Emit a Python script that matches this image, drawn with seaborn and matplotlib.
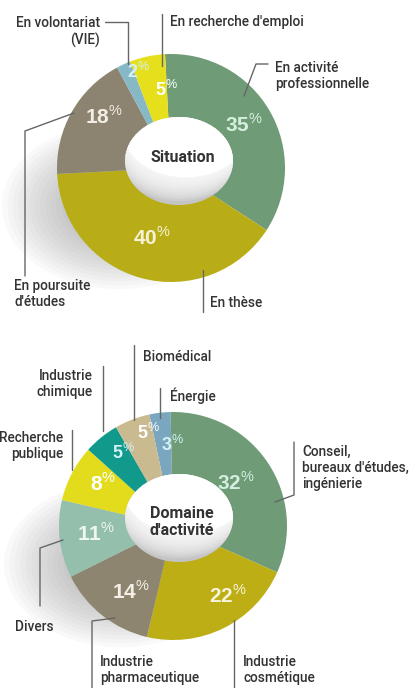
import matplotlib
matplotlib.use("Agg")
import matplotlib.pyplot as plt
from matplotlib.patches import Ellipse
import numpy as np
import seaborn as sns

# data
sit_labels = ["En activité\nprofessionnelle", "En thèse", "En poursuite\nd'études",
              "En volontariat\n(VIE)", "En recherche d'emploi"]
sit_values = [35, 40, 18, 2, 5]
sit_colors = ["#6f9b76", "#b9ad17", "#8c8370", "#86b8c5", "#e6df1c"]
sit_pct_colors = ["#d6f0e0", "#f6f2d8", "#f2eee4", "#d4f2f6", "#ffffff"]

dom_labels = ["Énergie", "Conseil,\nbureaux d'études,\ningénierie", "Industrie\ncosmétique",
              "Industrie\npharmaceutique", "Divers", "Recherche\npublique",
              "Industrie\nchimique", "Biomédical"]
dom_values = [3, 32, 22, 14, 11, 8, 5, 5]
dom_colors = ["#7aa7bf", "#6f9b76", "#bdae15", "#8e8570", "#94bfad", "#e2dc1d",
              "#11998b", "#c9ba8f"]
dom_pct_colors = ["#d4f2f6", "#d2efe0", "#f8f4dc", "#f4f0e6", "#eef7f0", "#ffffff",
                  "#d4f2f6", "#ffffff"]

sns.set_theme(style="white")
plt.rcParams["font.family"] = ["Roboto", "DejaVu Sans"]
plt.rcParams["mathtext.fontset"] = "custom"
plt.rcParams["mathtext.rm"] = "Liberation Sans"
plt.rcParams["mathtext.bf"] = "Liberation Sans:bold"

W, H = 411, 688
fig = plt.figure(figsize=(W / 100, H / 100), dpi=100)
ax = fig.add_axes([0, 0, 1, 1])


def Y(y):
    return H - y


def shadow(cx, cy, r):
    for k in range(12):
        s = 1.08 - k * 0.05
        ax.add_patch(Ellipse((cx - 52, Y(cy + 38)), 1.9 * r * s, 1.35 * r * s,
                             facecolor="#7a7a7a", edgecolor="none", alpha=0.04, zorder=0))


def hole(hx, hy, hw, hh):
    base = Ellipse((hx, Y(hy)), hw, hh, facecolor="#c4c4c4", edgecolor="none", zorder=3)
    ax.add_patch(base)
    steps = [(1.15, 1.0)] + [(1.15 - 0.09 * k, 0.16) for k in range(1, 12)]
    for t, a in steps:
        e = Ellipse((hx + 6 * t, Y(hy - 24 * t)), hw + 16, hh, facecolor="white",
                    edgecolor="none", alpha=a, zorder=3.2)
        ax.add_patch(e)
        e.set_clip_path(base)


def donut(values, colors, pct_colors, cx, cy, r, start, nudge):
    wedges, _ = ax.pie(values, colors=colors, startangle=start, counterclock=False,
                       radius=r, center=(cx, Y(cy)), frame=True,
                       wedgeprops=dict(edgecolor="none", zorder=2))
    for i, (wd, v, c) in enumerate(zip(wedges, values, pct_colors)):
        da, rr = nudge[i]
        mid = np.deg2rad((wd.theta1 + wd.theta2) / 2 + da)
        fs = 15 if v > 5 else 13
        ax.text(cx + rr * np.cos(mid), Y(cy) + rr * np.sin(mid),
                r"$\mathbf{" + str(v) + r"}^{\%}$",
                ha="center", va="center", fontsize=fs, color=c, zorder=5)
    return wedges


shadow(171, 168, 114)
shadow(173, 526, 114)
donut(sit_values, sit_colors, sit_pct_colors, 171, 168, 114, 93,
      [(1, 85), (0, 72), (-8, 85), (-6, 101), (-9, 78)])
donut(dom_values, dom_colors, dom_pct_colors, 173, 526, 114, 102,
      [(-6, 81), (1, 77), (12, 89), (6, 78), (-1, 77), (-4, 82), (-5, 88), (-6, 96)])
hole(179, 161, 108, 88)
hole(179, 518, 108, 88)

ax.text(183, Y(158), "Situation", ha="center", va="center", fontsize=11.5,
        fontweight="bold", color="#333333", zorder=6)
ax.text(182, Y(522), "Domaine\nd'activité", ha="center", va="center", fontsize=11.5,
        fontweight="bold", color="#333333", linespacing=1.15, zorder=6)

lc = "#666666"
tc = "#333333"
fs = 9.8
fw = "medium"


def line(pts):
    xs, ys = zip(*pts)
    ax.plot(xs, [Y(y) for y in ys], color=lc, lw=1, zorder=6)


def label(x, y, s, ha="left"):
    ax.text(x, Y(y), s, ha=ha, va="center", fontsize=fs, color=tc, fontweight=fw,
            multialignment=ha, linespacing=1.2)


# top chart labels
label(100, 32, sit_labels[3], "right")
line([(105, 22), (128, 22), (128, 64)])
label(170, 22, sit_labels[4])
line([(162, 14), (162, 66)])
label(275, 76, sit_labels[0])
line([(268, 64), (256, 64), (244, 96)])
label(14, 294, sit_labels[2])
line([(25, 276), (25, 131), (74, 113)])
label(210, 303, sit_labels[1])
line([(203, 312), (203, 270)])

# bottom chart labels
label(143, 357, dom_labels[7])
line([(134, 345), (134, 420)])
label(93, 384, dom_labels[6], "right")
line([(103, 366), (103, 431)])
label(170, 396, dom_labels[0])
line([(160, 388), (160, 418)])
label(63, 446, dom_labels[5], "right")
line([(72, 430), (72, 470)])
label(302, 468, dom_labels[1])
line([(294, 442), (294, 495), (275, 502)])
label(15, 627, dom_labels[4])
line([(40, 606), (40, 548), (63, 540)])
label(100, 670, dom_labels[3])
line([(92, 688), (92, 621), (115, 618)])
label(243, 670, dom_labels[2])
line([(234, 688), (234, 620)])

ax.set_xlim(0, W)
ax.set_ylim(0, H)
ax.set_aspect("auto")
ax.axis("off")
fig.savefig("out.png", dpi=100, facecolor="white")
